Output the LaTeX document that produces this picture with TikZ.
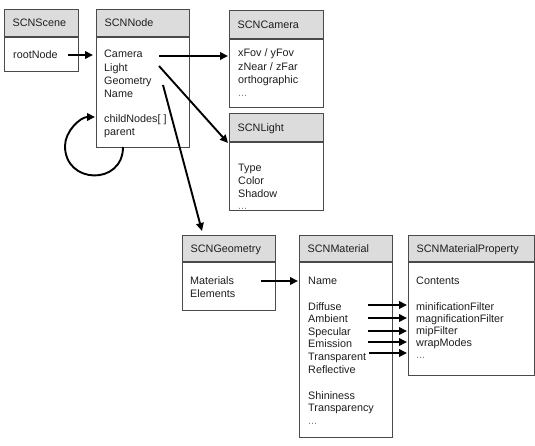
\documentclass[tikz,border=0pt]{standalone}
\usepackage{fontspec}
\setmainfont{Liberation Sans}
\usetikzlibrary{arrows.meta}
\newcommand\diagfont{\fontsize{10.8}{12}\selectfont}
\definecolor{hdrgray}{HTML}{DCDCDC}
\definecolor{edgegray}{HTML}{4A4A4A}
\definecolor{txtcol}{HTML}{1E1E1E}
\tikzset{
  boxnode/.style={draw=edgegray, line width=1.4pt, rectangle, inner sep=0pt, fill=none},
  hdrfill/.style={fill=hdrgray},
  boxline/.style={draw=edgegray, line width=1.4pt},
  item/.style={anchor=base west, inner sep=0pt, font=\diagfont, text=txtcol},
  dots/.style={anchor=base west, inner sep=0pt, font=\diagfont, text=gray},
  arr/.style={line width=1.9pt, black, -{Triangle[length=8pt,width=7.5pt]}},
}
\newcommand\classbox[7]{%
  \fill[white] (#2,#3) rectangle (#4,#5);
  \fill[hdrfill] (#2,#3) rectangle (#4,#6);
  \draw[boxline] (#2,#6) -- (#4,#6);
  \node[boxnode, anchor=north west, minimum width={(#4-#2)*1pt}, minimum height={(#5-#3)*1pt}] (#1) at (#2,#3) {};
  \node[item] (#1-title) at ({#2+8.5},{(#3+#6)/2+3.9}) {#7};
}
\begin{document}
\begin{tikzpicture}[x=1pt,y=-1pt]
\useasboundingbox[fill=white] (0,0) rectangle (535,446);

% boxes
\classbox{scene}{4}{9}{78}{71}{37}{SCNScene}
\classbox{node}{96}{9}{189}{147}{37}{SCNNode}
\classbox{camera}{229}{10}{323}{107}{39}{SCNCamera}
\classbox{light}{229}{113}{323}{210}{142}{SCNLight}
\classbox{geom}{182}{235}{275}{310}{262}{SCNGeometry}
\classbox{mat}{299}{235}{392}{437}{262}{SCNMaterial}
\classbox{prop}{408}{235}{534}{375}{262}{SCNMaterialProperty}

% SCNScene items
\node[item] (rootNode) at (13,59) {rootNode};

% SCNNode items
\node[item] (nCamera) at (104,58) {Camera};
\node[item] (nLight) at (104,71.5) {Light};
\node[item] (nGeometry) at (104,85) {Geometry};
\node[item] (nName) at (104,98) {Name};
\node[item] (nChild) at (104,123) {childNodes[ ]};
\node[item] (nParent) at (104,136) {parent};

% SCNCamera items
\node[item] (cFov) at (238,57) {xFov / yFov};
\node[item] (cNear) at (238,70.5) {zNear / zFar};
\node[item] (cOrtho) at (238,84) {orthographic};
\node[dots] (cDots) at (238,97) {...};

% SCNLight items
\node[item] (lType) at (238,172) {Type};
\node[item] (lColor) at (238,185) {Color};
\node[item] (lShadow) at (238,198) {Shadow};
\node[dots] (lDots) at (238,210) {...};

% SCNGeometry items
\node[item] (gMat) at (190,284) {Materials};
\node[item] (gElem) at (190,297) {Elements};

% SCNMaterial items
\node[item] (mName) at (308,284) {Name};
\node[item] (mDiffuse) at (308,310) {Diffuse};
\node[item] (mAmbient) at (308,322.6) {Ambient};
\node[item] (mSpecular) at (308,335.2) {Specular};
\node[item] (mEmission) at (308,347.8) {Emission};
\node[item] (mTransp) at (308,360.4) {Transparent};
\node[item] (mRefl) at (308,373) {Reflective};
\node[item] (mShin) at (308,399) {Shininess};
\node[item] (mTranspy) at (308,411.6) {Transparency};
\node[dots] (mDots) at (308,424) {...};

% SCNMaterialProperty items
\node[item] (pContents) at (416,284) {Contents};
\node[item] (pMin) at (416,310) {minificationFilter};
\node[item] (pMag) at (416,322.3) {magnificationFilter};
\node[item] (pMip) at (416,334.6) {mipFilter};
\node[item] (pWrap) at (416,346.9) {wrapModes};
\node[dots] (pDots) at (416,358) {...};

% connector end points
\coordinate (a1s) at (68,55);   \coordinate (a1e) at (93,55);
\coordinate (a2s) at (159,56);  \coordinate (a2e) at (228,56);
\coordinate (a3s) at (159,66);  \coordinate (a3e) at (228,143);
\coordinate (a4s) at (163,85);  \coordinate (a4e) at (202,231);
\coordinate (loopS) at (123,147); \coordinate (loopM) at (65,146); \coordinate (loopE) at (95,117);
\coordinate (a5s) at (261,281); \coordinate (a5e) at (298,281);
\coordinate (b1s) at (368,305); \coordinate (b1e) at (407,305);
\coordinate (b2s) at (368,318); \coordinate (b2e) at (407,318);
\coordinate (b3s) at (368,331); \coordinate (b3e) at (407,331);
\coordinate (b4s) at (368,342); \coordinate (b4e) at (407,342);
\coordinate (b5s) at (369,353); \coordinate (b5e) at (407,353);

% connectors
\draw[arr] (a1s) -- (a1e);
\draw[arr] (a2s) -- (a2e);
\draw[arr] (a3s) -- (a3e);
\draw[arr] (a4s) -- (a4e);
\draw[arr] (loopS) to[out=-90,in=-90,looseness=1.7] (loopM) to[out=90,in=180,looseness=0.9] (loopE);
\draw[arr] (a5s) -- (a5e);
\draw[arr] (b1s) -- (b1e);
\draw[arr] (b2s) -- (b2e);
\draw[arr] (b3s) -- (b3e);
\draw[arr] (b4s) -- (b4e);
\draw[arr] (b5s) -- (b5e);
\end{tikzpicture}
\end{document}
